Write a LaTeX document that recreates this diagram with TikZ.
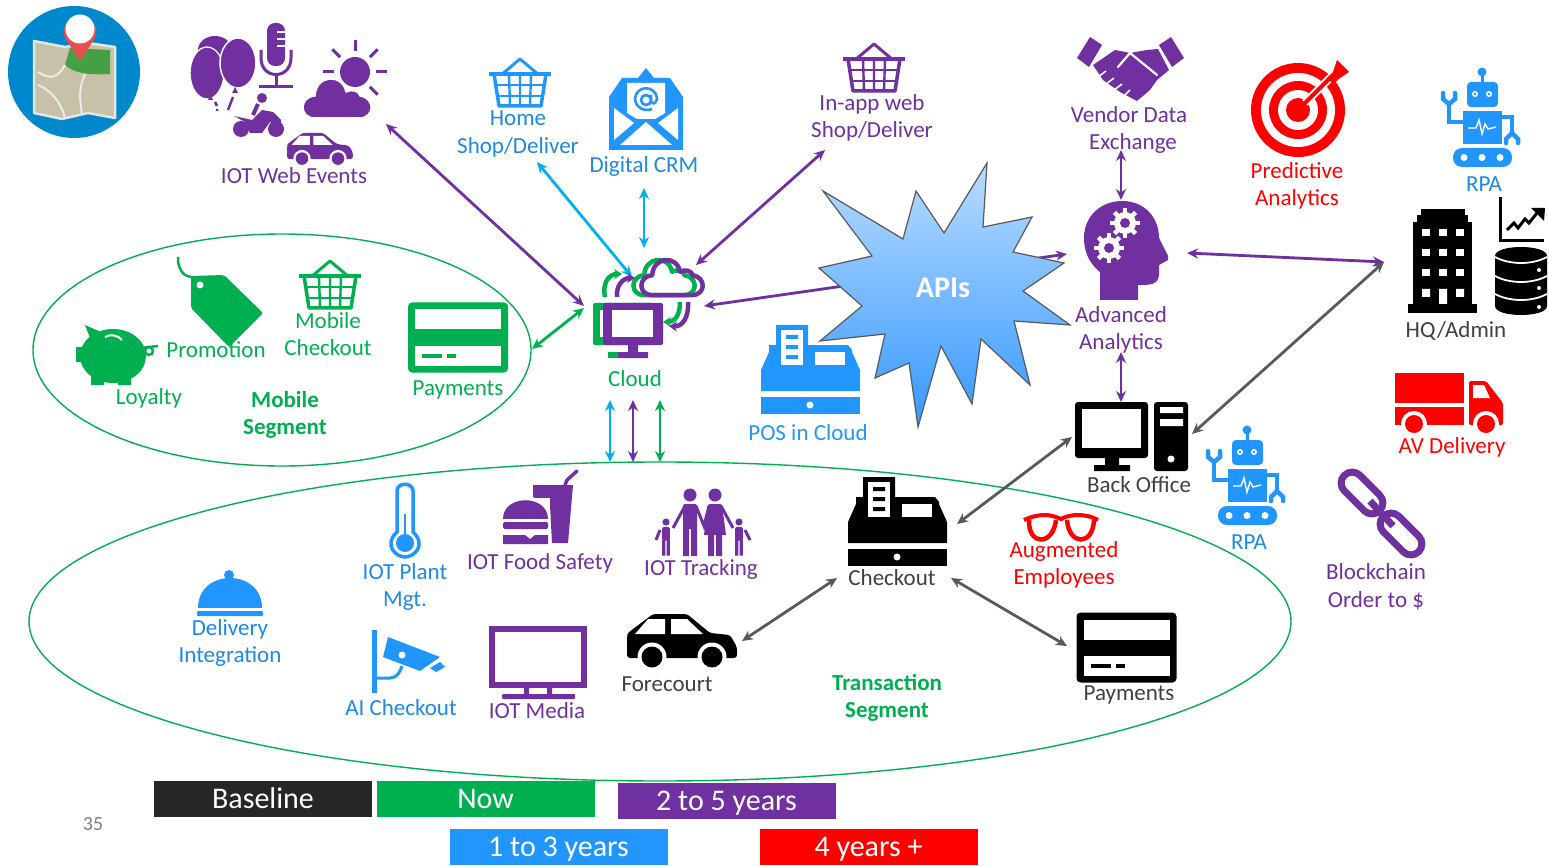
\documentclass[tikz,border=0pt]{standalone}
\usepackage{fontspec}
\setmainfont{Carlito}
\usetikzlibrary{arrows.meta,shapes.misc}
\definecolor{mypurple}{HTML}{7030A0}
\definecolor{mygreen}{HTML}{00B050}
\definecolor{myblue}{HTML}{2196FF}
\definecolor{textblue}{HTML}{1E88E5}
\definecolor{mycyan}{HTML}{00B0F0}
\definecolor{mygray}{HTML}{595959}
\definecolor{myred}{HTML}{FF0000}
\definecolor{textgray}{HTML}{404040}
\definecolor{starsky}{HTML}{B8DCFF}
\definecolor{stardeep}{HTML}{3597FF}
\definecolor{mapblue}{HTML}{0088CC}
\definecolor{mapsand}{HTML}{C6C1A8}
\definecolor{mapgreen}{HTML}{45A045}
\definecolor{pinred}{HTML}{E85050}
\definecolor{barblack}{HTML}{262626}
\tikzset{
  lbl/.style={font=\fontsize{23}{27.5}\selectfont, align=center, inner sep=0pt},
  boldlbl/.style={lbl, font=\fontsize{23}{27.5}\selectfont\bfseries, text=mygreen},
  bar/.style={font=\fontsize{30}{32}\selectfont, text=white, minimum width=218pt, minimum height=36pt, inner sep=0pt, text height=22pt, text depth=4pt},
  link/.style={<->, >={Stealth[length=11pt,width=10pt]}, line width=2.8pt},
  pics/basket/.style={code={
    \draw[#1, line width=3pt, line join=round] (-19,-8) -- (0,-24) -- (19,-8);
    \draw[#1, line width=3.5pt, line join=round] (-26,-9) -- (-21,23) -- (21,23) -- (26,-9) -- cycle;
    \draw[#1, line width=3.5pt] (-31,-9) -- (31,-9);
    \draw[#1, line width=2.4pt] (-24,2) -- (24,2) (-22,13) -- (22,13);
    \draw[#1, line width=2.4pt] (-11,-9) -- (-10,23) (0,-9) -- (0,23) (11,-9) -- (10,23);
  }},
  pics/card/.style={code={
    \fill[#1, rounded corners=4pt] (-50,-35) rectangle (50,35);
    \fill[white] (-43,-28) rectangle (43,-8);
    \fill[white] (-43,8) rectangle (43,28);
    \fill[#1] (-36,16) rectangle (-16,20);
    \fill[#1] (-11,16) rectangle (-2,20);
  }},
  pics/register/.style={code={
    \fill[#1, line join=round] (-49,21) -- (-49,0) -- (-41,-18) -- (-41,-25) -- (-34,-25) -- (-34,-45) -- (-2,-45) -- (-2,-25) -- (38,-25) -- (42,-20) -- (42,-18) -- (50,0) -- (50,21) -- cycle;
    \fill[white] (-29,-40) rectangle (-7,-5);
    \fill[#1] (-24,-35) rectangle (-12,-31) (-24,-25) rectangle (-12,-21) (-24,-15) rectangle (-12,-11);
    \fill[white] (5,-18) rectangle (35,-5);
    \fill[#1] (-49,27) rectangle (50,44);
    \fill[white] (0,35) circle (3.5);
  }},
  pics/robot/.style={code={
    \fill[#1] (0,-46) circle (4.5);
    \draw[#1, line width=3pt] (0,-46) -- (0,-36);
    \fill[#1, rounded corners=4pt] (-15,-36) rectangle (16,-11);
    \fill[white] (-7,-24) circle (3) (7,-24) circle (3);
    \fill[#1] (-7,-24) circle (1.4) (7,-24) circle (1.4);
    \fill[#1] (-19,-7) rectangle (20,26);
    \draw[white, line width=1.4pt] (-14,10) -- (-6,10) -- (-3,2) -- (0,16) -- (3,6) -- (6,11) -- (14,9);
    \fill[#1, rounded corners=9pt] (-29,30) rectangle (30,49);
    \fill[white] (-18,39.5) circle (3.5) (0,39.5) circle (3.5) (18,39.5) circle (3.5);
    \draw[#1, line width=4.5pt] (-19,4) -- (-33,4) -- (-33,-14);
    \draw[#1, line width=4.5pt, line cap=round] (-39,-25) -- (-39,-19) -- (-33,-14) -- (-27,-19) -- (-27,-25);
    \draw[#1, line width=4.5pt] (20,-1) -- (30,-1) -- (30,17);
    \draw[#1, line width=4.5pt, line cap=round] (24,25) -- (24,21) -- (30,15) -- (36,21) -- (36,25);
  }},
  pics/car/.style={code={
    \fill[#1, rounded corners=3pt] (-55,-6) -- (-53,-9) -- (-29,-27) -- (5,-27) -- (28,-8) -- (48,-6) -- (55,6) -- (55,17) -- (-55,17) -- cycle;
    \fill[white] (-47,-7) -- (-34,-22) -- (-17,-22) -- (-17,-7) -- cycle;
    \fill[white] (-11,-7) -- (-11,-22) -- (5,-22) -- (21,-7) -- cycle;
    \fill[white] (-30,16) circle (14.5) (30,16) circle (14.5);
    \fill[#1] (-30,16) circle (10.5) (30,16) circle (10.5);
  }},
  pics/cloudshape/.style={code={
    \path[#1, line join=round] (-22,19) .. controls (-38,19) and (-38,-2) .. (-22,-3) .. controls (-21,-24) and (5,-26) .. (9,-7) .. controls (15,-10) and (22,-8) .. (23,-3) .. controls (38,-1) and (38,19) .. (22,19) -- cycle;
  }},
  pics/gear/.style={code={
    \foreach \a in {0,45,...,315} \draw[white, line width=4.5pt] (\a:9) -- (\a:15);
    \fill[white] (0,0) circle (11);
    \fill[#1] (0,0) circle (5);
  }},
  pics/person/.style={code={
    \fill[#1] (0,-30) circle (6.5);
    \fill[#1, rounded corners=2pt] (-7,-21) rectangle (7,4);
    \fill[#1] (-7,2) rectangle (-1,31) (1,2) rectangle (7,31);
  }}
}
\begin{document}
\begin{tikzpicture}[x=1pt, y=-1pt]
        \useasboundingbox (0,0) rectangle (1549,866);

        \draw[mygreen, line width=1.4pt] (282,350) ellipse (249 and 116);
        \draw[mygreen, line width=1.4pt] (660,621.5) ellipse (631 and 159.5);

        \coordinate (webEnd) at (386,124);
        \coordinate (cloudW) at (584,306);
        \coordinate (homeEnd) at (537,162);
        \coordinate (cloudNW) at (632,277);
        \coordinate (crmEnd) at (644,188);
        \coordinate (cloudN) at (644,248);
        \coordinate (inappEnd) at (825,150);
        \coordinate (cloudNE) at (696,265);
        \coordinate (cloudE) at (704,306);
        \coordinate (advW) at (1067,254);
        \coordinate (mobileE) at (532,349);
        \coordinate (cloudSW) at (584,308);
        \coordinate (cyanTop) at (610,400);
        \coordinate (cyanEnd) at (610,462);
        \coordinate (purpleTop) at (633,400);
        \coordinate (purpleEnd) at (633,462);
        \coordinate (greenTop) at (660,400);
        \coordinate (greenEnd) at (660,462);
        \coordinate (vendorS) at (1121,150);
        \coordinate (advN) at (1121,200);
        \coordinate (advS) at (1121,352);
        \coordinate (backN) at (1121,402);
        \coordinate (advE) at (1187,253);
        \coordinate (hqW) at (1384,262);
        \coordinate (backE) at (1192,434);
        \coordinate (checkNE) at (957,524);
        \coordinate (backW) at (1072,437);
        \coordinate (forecourtE) at (742,641);
        \coordinate (checkW) at (837,578);
        \coordinate (checkE) at (951,578);
        \coordinate (payW) at (1067,646);

        \draw[link, mypurple] (webEnd) -- (cloudW);
        \draw[link, mycyan] (homeEnd) -- (cloudNW);
        \draw[link, mycyan] (crmEnd) -- (cloudN);
        \draw[link, mypurple] (inappEnd) -- (cloudNE);
        \draw[link, mypurple] (cloudE) -- (advW);
        \draw[link, mygreen] (mobileE) -- (cloudSW);
        \draw[link, mycyan] (cyanTop) -- (cyanEnd);
        \draw[link, mypurple] (purpleTop) -- (purpleEnd);
        \draw[link, mygreen] (greenTop) -- (greenEnd);
        \draw[link, mypurple] (vendorS) -- (advN);
        \draw[link, mypurple] (advS) -- (backN);
        \draw[link, mypurple] (advE) -- (hqW);
        \draw[link, mygray] (backE) -- (hqW);
        \draw[link, mygray] (checkNE) -- (backW);
        \draw[link, mygray] (forecourtE) -- (checkW);
        \draw[link, mygray] (checkE) -- (payW);

        % map badge
        \fill[mapblue] (74,72) circle (66);
        \fill[mapsand, draw=white!90!black, line width=2.5pt, line join=round] (34,41) -- (65,47) -- (88,43) -- (115,47) -- (115,118) -- (88,113) -- (62,119) -- (34,113) -- cycle;
        \fill[mapgreen] (70,48) -- (110,50) -- (110,74) .. controls (90,75) and (75,74) .. (65,65) -- cycle;
        \draw[white!92!black, line width=2pt] (38,72) .. controls (50,80) and (58,78) .. (65,65);
        \draw[white!92!black, line width=2pt] (85,74) .. controls (78,90) and (80,100) .. (82,114);
        \draw[white!92!black, line width=2pt] (38,85) .. controls (52,90) and (62,105) .. (65,118);
        \fill[pinred] (80,61) -- (65,38) .. controls (55,12) and (105,12) .. (95,38) -- cycle;
        \fill[white] (80,29) circle (14.5);

        % iot web events
        \fill[mypurple] (215,50) ellipse (17 and 14);
        \fill[mypurple, draw=white, line width=1.3pt] (207,73) ellipse (17 and 26);
        \fill[mypurple, draw=white, line width=1.5pt] (238,63) ellipse (18 and 25);
        \fill[mypurple] (208,100) -- (213,100) -- (210,94) -- cycle (232,93) -- (238,93) -- (235,87) -- cycle;
        \draw[mypurple, line width=2.5pt] (215,102) -- (217,106) (217,109) -- (217,111) (233,97) -- (228,110);
        \fill[mypurple, rounded corners=8pt] (267,23) rectangle (285,66);
        \draw[white, line width=1.3pt] (277,32) -- (285,32) (277,39) -- (285,39) (277,46) -- (285,46);
        \draw[mypurple, line width=3pt] (261,50) -- (261,58) .. controls (261,80) and (291,80) .. (291,58) -- (291,50);
        \draw[mypurple, line width=3pt] (276,74) -- (276,86);
        \draw[mypurple, line width=3pt] (259,87) -- (293,87);
        \fill[mypurple] (355,72) circle (15);
        \foreach \a in {0,45,-45,-90,-135,180}
          \draw[mypurple, line width=3pt] (355,72) ++(\a:21) -- ++(\a:11);
        \pic (weatherCloud) at (337,99) {cloudshape={fill=mypurple, draw=white, line width=1.5pt}};
        \fill[mypurple] (241,129) circle (8) (276,129) circle (8);
        \fill[mypurple, line join=round] (234,116) -- (252,120) -- (262,110) -- (273,112) -- (281,120) -- (280,128) -- (270,122) -- (262,133) -- (250,133) -- (245,122) -- cycle;
        \fill[mypurple] (262,98) circle (5);
        \draw[mypurple, line width=4pt] (258,104) -- (253,115);
        \pic[scale=.6] (webCar) at (320,149) {car=mypurple};

        % top row of icons
        \pic (basketHome) at (520,83) {basket=myblue};
        \pic (basketApp) at (874,68) {basket=mypurple};
        \pic (basketMobile) at (330,285) {basket=mygreen};
        \fill[myblue] (609,97) -- (622,78) -- (638,78) -- (646,68) -- (654,78) -- (670,78) -- (683,97) -- (683,150) -- (609,150) -- cycle;
        \fill[white] (627,83) -- (665,83) -- (665,113) -- (655,119) -- (637,119) -- (627,113) -- cycle;
        \fill[white] (614,108) -- (634,123) -- (614,140) -- cycle (678,108) -- (658,123) -- (678,140) -- cycle (620,145) -- (646,122) -- (672,145) -- cycle;
        \draw[myblue, line width=2.6pt] (646,100) circle (5) (651,95) -- (651,102) .. controls (655,106) and (657,100) .. (657,98) .. controls (655,85) and (637,85) .. (635,98) .. controls (635,108) and (645,112) .. (652,109);

        % cloud and computer
        \pic (cloudBack) at (664,278) [scale=.9] {cloudshape={draw=mygreen, line width=4.5pt}};
        \pic (cloudFront) at (672,278) [scale=.9] {cloudshape={draw=mypurple, line width=4.5pt}};
        \draw[-{Stealth[length=8pt,width=10pt]}, mygreen, line width=4.5pt] (605,297) .. controls (602,283) and (609,274) .. (622,274);
        \draw[-{Stealth[length=8pt,width=10pt]}, mypurple, line width=4.5pt] (617,297) .. controls (616,285) and (623,278) .. (635,278);
        \draw[-{Stealth[length=8pt,width=10pt]}, mygreen, line width=4.5pt] (680,302) .. controls (680,315) and (675,322) .. (663,322);
        \draw[-{Stealth[length=8pt,width=10pt]}, mypurple, line width=4.5pt] (688,302) .. controls (689,318) and (682,327) .. (669,326);
        \fill[mygreen, rounded corners=2pt] (593,303) rectangle (653,345);
        \fill[white] (600,310) rectangle (648,337);
        \fill[mygreen] (608,352) rectangle (630,358);
        \fill[mypurple, rounded corners=2pt] (603,303) rectangle (663,345);
        \fill[white] (612,310) rectangle (653,337);
        \fill[mypurple] (628,345) rectangle (638,352) (618,352) rectangle (648,358);

        % star burst
        \draw[top color=starsky, bottom color=stardeep, draw=mygray, line width=1.2pt, line join=miter] (823,191) -- (903,239) -- (916,191) -- (944,233) -- (987,163) -- (983,227) -- (1032,217) -- (1013,252) -- (1064,263) -- (1023,291) -- (1070,325) -- (1014,321) -- (1030,385) -- (981,339) -- (972,404) -- (941,346) -- (918,427) -- (909,363) -- (875,378) -- (885,334) -- (820,341) -- (862,306) -- (819,268) -- (872,256) -- cycle;
        \node[font=\fontsize{30}{32}\selectfont\bfseries, text=white, inner sep=0pt] (apisText) at (943,288) {APIs};

        % right hand column
        \fill[mypurple] (1077,58) -- (1090,37) -- (1102,45) -- (1089,67) -- cycle;
        \fill[mypurple] (1184,58) -- (1171,37) -- (1159,45) -- (1172,67) -- cycle;
        \fill[mypurple, line join=round] (1093,65) -- (1115,50) -- (1130,53) -- (1147,50) -- (1158,49) -- (1169,70) -- (1157,80) -- (1150,90) -- (1137,101) -- (1120,92) -- (1103,80) -- cycle;
        \draw[white, line width=2.2pt, line cap=round] (1118,67) -- (1130,53) -- (1157,75);
        \draw[white, line width=1.6pt] (1098,77) -- (1106,71) (1106,84) -- (1114,78) (1114,90) -- (1122,84) (1124,96) -- (1130,90);

        \fill[myred] (1298,110) circle (47);
        \fill[white] (1298,110) circle (37);
        \fill[myred] (1298,110) circle (29);
        \fill[white] (1298,110) circle (20);
        \fill[myred] (1298,110) circle (12);
        \draw[white, line width=8pt] (1305,103) -- (1338,70);
        \draw[myred, line width=4pt] (1298,110) -- (1332,76);
        \fill[myred] (1337,60) -- (1349,72) -- (1340,78) -- (1333,84) -- (1327,78) -- (1333,72) -- cycle;

        \pic (robotTop) at (1482,118) {robot=myblue};
        \pic (robotLow) at (1247,476) {robot=myblue};

        \fill[mypurple, line join=round] (1100,300) -- (1100,272) .. controls (1087,262) and (1084,248) .. (1084,238) .. controls (1084,215) and (1102,201) .. (1122,201) .. controls (1145,201) and (1159,218) .. (1159,238) -- (1168,256) -- (1168,260) -- (1159,265) -- (1159,275) .. controls (1158,285) and (1150,285) .. (1138,285) -- (1138,300) -- cycle;
        \pic (gearTop) at (1125,223) {gear=mypurple};
        \pic (gearLow) at (1109,248) {gear=mypurple};

        \fill[black] (1408,304) rectangle (1477,313);
        \fill[black] (1413,222) rectangle (1472,304);
        \fill[black] (1417,215) rectangle (1468,222);
        \fill[black] (1421,209) rectangle (1465,215);
        \foreach \c in {1426,1443,1460}
          \foreach \r in {233,253,273}
            \fill[white] (\c-4,\r-3.5) rectangle (\c+4,\r+3.5);
        \fill[white] (1422,289) rectangle (1430,297) (1456,289) rectangle (1464,297) (1439,289) rectangle (1447,304);
        \draw[black, line width=3pt] (1500,197) -- (1500,241) -- (1544,241);
        \draw[black, line width=3pt] (1507,230) -- (1514,223) -- (1518,228) -- (1525,219) -- (1529,223) -- (1537,213);
        \fill[black] (1531,208) -- (1545,208) -- (1544,221) -- cycle;
        \fill[black] (1495,256) .. controls (1495,244) and (1547,244) .. (1547,256) -- (1547,306) .. controls (1547,318) and (1495,318) .. (1495,306) -- cycle;
        \foreach \t in {257,276,294}
          \draw[white, line width=1.8pt] (1495,\t) .. controls (1510,\t+8) and (1532,\t+8) .. (1547,\t);
        \fill[white] (1539,270) circle (2) (1539,288) circle (2) (1539,307) circle (2);

        \fill[myred] (1395,373) rectangle (1464,403);
        \fill[myred] (1395,407) rectangle (1464,425);
        \fill[myred, rounded corners=2pt] (1469,425) -- (1469,381) -- (1486,381) -- (1503,403) -- (1503,425) -- cycle;
        \fill[white] (1473,385) -- (1484,385) -- (1490,398) -- (1473,398) -- cycle;
        \fill[white] (1414,424) circle (13) (1486,424) circle (13);
        \fill[myred] (1414,424) circle (9) (1486,424) circle (9);

        \fill[black, rounded corners=3pt] (1075,402) rectangle (1148,458);
        \fill[white] (1082,409) rectangle (1141,448);
        \fill[black] (1105,458) rectangle (1119,465) (1094,465) rectangle (1130,471);
        \fill[black, rounded corners=3pt] (1154,402) rectangle (1188,471);
        \fill[white] (1160,407) rectangle (1183,413) (1160,419) rectangle (1183,426);
        \fill[white] (1171,459) circle (3.5);

        \draw[myred, line width=4.5pt] (1029,520) .. controls (1028,546) and (1053,546) .. (1056,520);
        \draw[myred, line width=4.5pt] (1067,520) .. controls (1069,546) and (1093,546) .. (1094,520);
        \draw[myred, line width=4pt] (1024,520) .. controls (1040,513) and (1050,514) .. (1061,519) .. controls (1070,514) and (1085,513) .. (1098,520);

        \node[draw=mypurple, line width=7pt, rounded rectangle, minimum width=50pt, minimum height=22pt, rotate=-45, inner sep=0pt] (chainTop) at (1362,493) {};
        \node[draw=mypurple, line width=7pt, rounded rectangle, minimum width=50pt, minimum height=22pt, rotate=-45, inner sep=0pt] (chainLow) at (1401,534) {};
        \draw[mypurple, line width=7pt] (chainTop.center) ++(8,8) -- ([xshift=-8pt,yshift=8pt]chainLow.center);

        % mobile segment icons
        \fill[mygreen] (113,356) ellipse (33 and 27);
        \fill[mygreen] (76,347) rectangle (90,362);
        \fill[mygreen] (85,325) -- (103,333) -- (92,343) -- cycle;
        \fill[mygreen] (91,375) rectangle (104,385) (118,375) rectangle (131,385);
        \draw[white, line width=2pt] (105,337) .. controls (110,334) and (118,335) .. (122,340);
        \draw[mygreen, line width=2.5pt] (149,351) circle (4) (141,348) -- (158,346);
        \draw[mygreen, line width=2.5pt] (199,284) .. controls (197,274) and (188,280) .. (182,272) .. controls (178,266) and (178,262) .. (178,257);
        \fill[mygreen, rounded corners=2pt] (191,276) -- (224,275) -- (263,313) -- (229,347) -- (191,308) -- cycle;
        \fill[white] (200,285) circle (3.5);
        \pic (cardMobile) at (458,337.5) {card=mygreen};

        % transaction segment icons
        \pic (registerPos) at (810,370) {register=myblue};
        \pic (registerCheck) at (897,522) {register=black};
        \pic (cardCheck) at (1126.5,647.5) {card=black};
        \pic (carForecourt) at (682,641) {car=black};

        \draw[myblue, line width=3.5pt] (397,532) -- (397,491) .. controls (397,482) and (413,482) .. (413,491) -- (413,532) .. controls (427,545) and (414,557) .. (405,557) .. controls (396,557) and (383,545) .. (397,532) -- cycle;
        \fill[myblue] (405,543) circle (9);
        \draw[myblue, line width=2.5pt] (405,514) -- (405,540);

        \fill[mypurple] (533,485) -- (573,485) -- (568,543) -- (552,543) -- (550,505) -- (533,497) -- cycle;
        \draw[mypurple, line width=3.5pt, line cap=round] (565,485) -- (567,480) -- (577,471);
        \fill[white] (500,498) rectangle (550,546);
        \fill[mypurple] (503,519) .. controls (503,494) and (548,494) .. (548,519) -- cycle;
        \fill[mypurple, rounded corners=1.5pt] (503,522) rectangle (548,529);
        \fill[mypurple] (503,535) -- (525,535) -- (530,539) -- (535,535) -- (548,535) -- (548,544) -- (503,544) -- cycle;

        \pic (personDad) at (690,525) {person=mypurple};
        \pic (personMum) at (715,525) {person=mypurple};
        \fill[mypurple] (708,505) -- (722,505) -- (726,535) -- (704,535) -- cycle;
        \pic[scale=.55] (personSon) at (666,538.5) {person=mypurple};
        \pic[scale=.55] (personKid) at (739,538.5) {person=mypurple};
        \draw[mypurple, line width=3pt] (685,506) -- (673,528) (696,506) -- (704,526) -- (709,506) (721,506) -- (733,528) (660,530) -- (656,540) (745,530) -- (750,540);

        \fill[myblue] (372,630) rectangle (377,693);
        \fill[myblue] (388,637) -- (440,657) -- (420,671) -- (383,657) -- cycle;
        \fill[myblue] (430,668) -- (440,662) -- (445,667) -- (436,672) -- cycle;
        \draw[myblue, line width=3pt] (377,678) -- (390,678) .. controls (397,678) and (400,672) .. (402,666);
        \fill[white] (402,655) circle (3.5);

        \draw[mypurple, line width=6pt] (492,629) rectangle (584,685);
        \fill[mypurple] (524,688) rectangle (529,695) (547,688) rectangle (552,695);
        \fill[mypurple, rounded corners=1pt] (502,694) rectangle (575,699);

        \fill[myblue] (229,575) circle (5);
        \fill[myblue] (198,608) .. controls (198,568) and (262,568) .. (262,608) -- cycle;
        \fill[myblue, rounded corners=1pt] (197,611) rectangle (263,616);

        % labels
        \node[lbl, text=mypurple] (webLabel) at (294,176) {IOT Web Events};
        \node[lbl, text=textblue] (homeLabel) at (518,134) {Home\\Shop/Deliver};
        \node[lbl, text=textblue] (crmLabel) at (644,166) {Digital CRM};
        \node[lbl, text=mypurple] (inappLabel) at (872,118) {In-app web\\Shop/Deliver};
        \node[lbl, text=mypurple] (vendorLabel) at (1129,130) {Vendor Data\\\hspace*{8pt}Exchange};
        \node[lbl, text=myred] (predictLabel) at (1297,186) {Predictive\\Analytics};
        \node[lbl, text=textblue] (rpaTopLabel) at (1484,184) {RPA};
        \node[lbl, text=textgray] (hqLabel) at (1456,331) {HQ/Admin};
        \node[lbl, text=mypurple] (advLabel) at (1121,330) {Advanced\\Analytics};
        \node[lbl, text=textgray] (backLabel) at (1139,485) {Back Office};
        \node[lbl, text=myred] (avLabel) at (1452,447) {AV Delivery};
        \node[lbl, text=textblue] (rpaLowLabel) at (1249,542) {RPA};
        \node[lbl, text=mypurple] (chainLabel) at (1376,587) {Blockchain\\Order to \$};
        \node[lbl, text=myred] (augLabel) at (1064,565) {Augmented\\Employees};
        \node[lbl, text=textgray] (checkLabel) at (892,578) {Checkout};
        \node[lbl, text=textgray] (forecourtLabel) at (667,684) {Forecourt};
        \node[lbl, text=textgray] (payLabel) at (1129,695) {Payments};
        \node[boldlbl] (transLabel) at (887,698) {Transaction\\Segment};
        \node[boldlbl] (mobileLabel) at (285,415) {Mobile\\Segment};
        \node[lbl, text=mygreen] (loyaltyLabel) at (149,398) {Loyalty};
        \node[lbl, text=mygreen] (promoLabel) at (216,350) {Promotion};
        \node[lbl, text=mygreen] (mobCheckLabel) at (328,334) {Mobile\\Checkout};
        \node[lbl, text=mygreen] (mobPayLabel) at (458,390) {Payments};
        \node[lbl, text=mygreen] (cloudLabel) at (635,379) {Cloud};
        \node[lbl, text=myblue] (posLabel) at (808,433) {POS in Cloud};
        \node[lbl, text=textblue] (plantLabel) at (405,587) {IOT Plant\\Mgt.};
        \node[lbl, text=mypurple] (foodLabel) at (540,563) {IOT Food Safety};
        \node[lbl, text=mypurple] (trackLabel) at (701,569) {IOT Tracking};
        \node[lbl, text=textblue] (deliveryLabel) at (230,643) {Delivery\\Integration};
        \node[lbl, text=textblue] (aiLabel) at (401,708) {AI Checkout};
        \node[lbl, text=mypurple] (mediaLabel) at (537,711) {IOT Media};
        \node[lbl, text=gray, font=\fontsize{20}{24}\selectfont] (pageNum) at (93,824) {35};

        % time scale
        \node[bar, fill=barblack] (baseBar) at (263,799) {Baseline};
        \node[bar, fill=mygreen] (nowBar) at (485.5,799) {Now};
        \node[bar, fill=mypurple] (farBar) at (726.5,801) {2 to 5 years};
        \node[bar, fill=myblue] (nearBar) at (558.5,847) {1 to 3 years};
        \node[bar, fill=myred] (lateBar) at (868.5,847) {4 years +};
\end{tikzpicture}
\end{document}
